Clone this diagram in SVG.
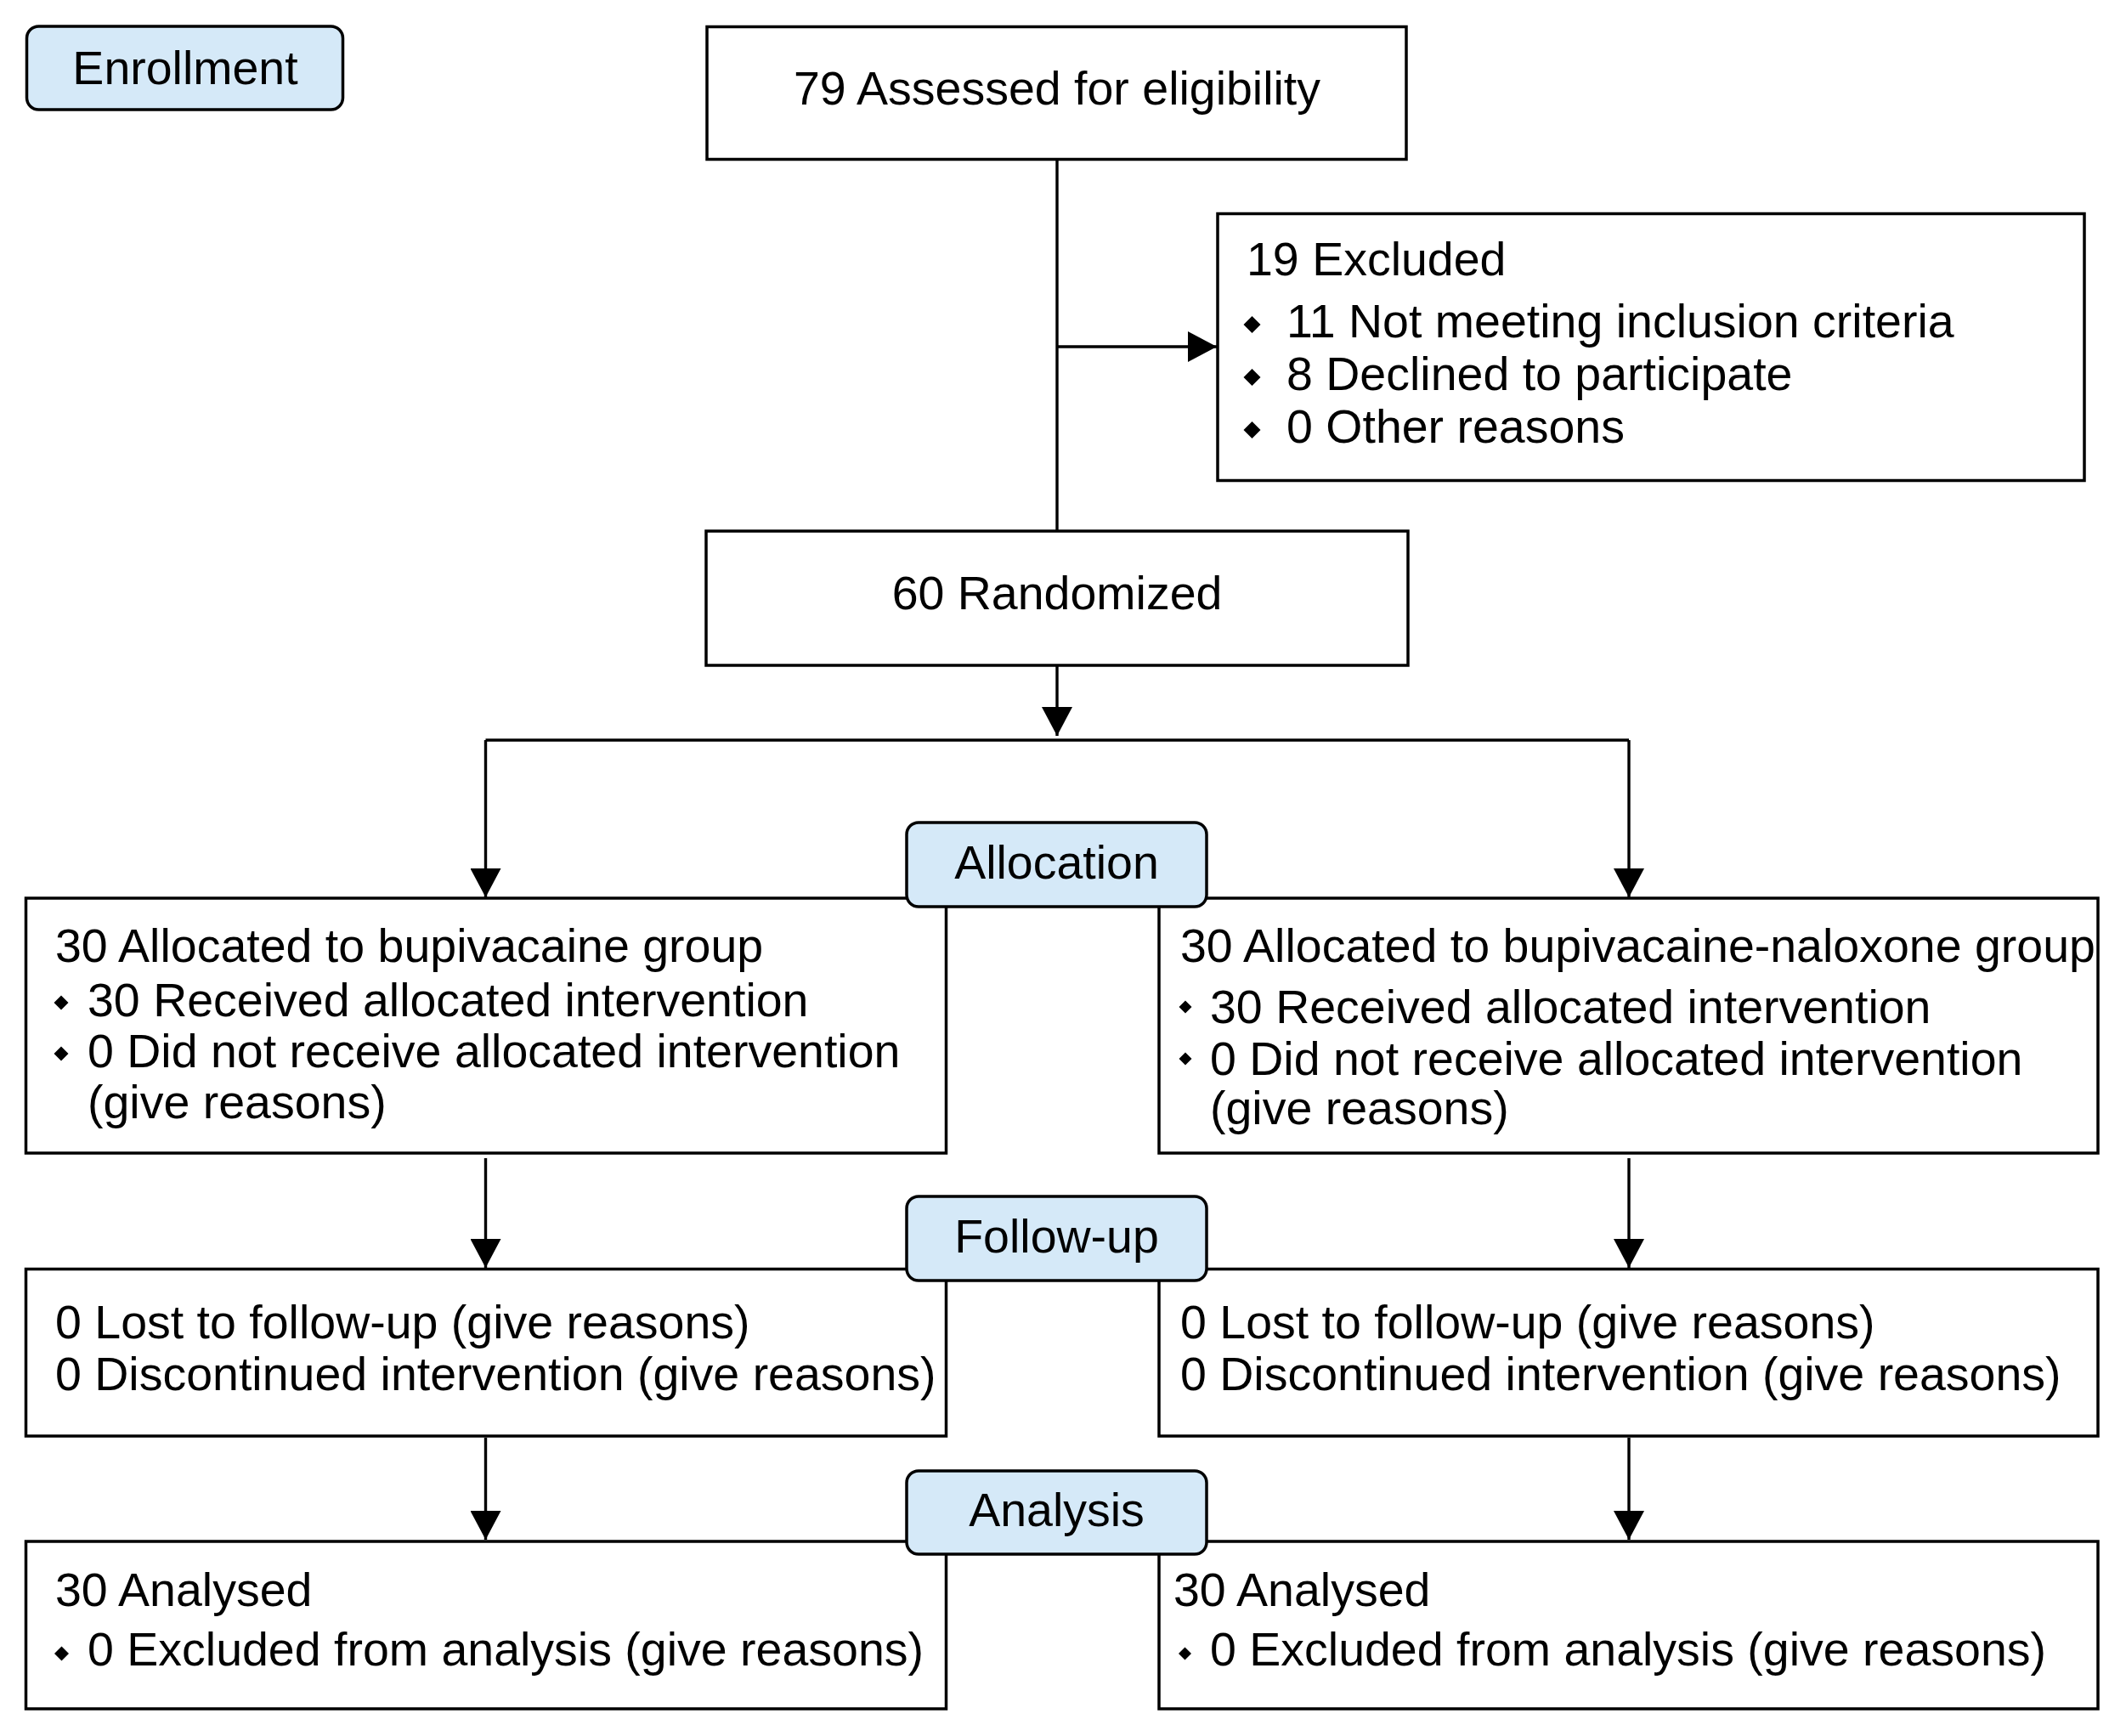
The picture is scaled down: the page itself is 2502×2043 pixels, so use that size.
<svg xmlns="http://www.w3.org/2000/svg" xmlns:xlink="http://www.w3.org/1999/xlink" width="2502" height="2043" viewBox="0 0 2502 2043">
<defs>
<style>
.box{fill:#ffffff;stroke:#000;stroke-width:3.5}
.phase{fill:#d5e9f8;stroke:#000;stroke-width:3.5}
.t{font-family:"Liberation Sans",Arial,Helvetica,sans-serif;font-size:55.5px;fill:#000}
.c{text-anchor:middle}
.ln{fill:none;stroke:#000;stroke-width:3.4}
</style>
<marker id="arr" markerUnits="userSpaceOnUse" markerWidth="34" markerHeight="36" refX="34" refY="18" orient="auto" viewBox="0 0 34 36"><path d="M0,0 L34,18 L0,36 Z" fill="#000"/></marker>
<path id="dia" d="M0,-10 L10,0 L0,10 L-10,0 Z" fill="#000"/>
</defs>
<rect width="2502" height="2043" fill="#ffffff"/>

<g id="connectors" class="ln">
<path d="M1244,188 V625"/>
<path d="M1244,408 H1432" marker-end="url(#arr)"/>
<path d="M1244,783 V866" marker-end="url(#arr)"/>
<path d="M571.5,871 H1917"/>
<path d="M571.5,871 V1056" marker-end="url(#arr)"/>
<path d="M1917,871 V1056" marker-end="url(#arr)"/>
<path d="M571.5,1363 V1492" marker-end="url(#arr)"/>
<path d="M1917,1363 V1492" marker-end="url(#arr)"/>
<path d="M571.5,1692 V1812" marker-end="url(#arr)"/>
<path d="M1917,1692 V1812" marker-end="url(#arr)"/>
</g>

<g id="enrollment">
<rect class="phase" x="31.5" y="31" width="372" height="98" rx="14"/>
<text class="t c" x="218" y="99">Enrollment</text>
</g>

<g id="assessed">
<rect class="box" x="832" y="31.5" width="823" height="156"/>
<text class="t c" x="1244" y="123">79 Assessed for eligibility</text>
</g>

<g id="excluded">
<rect class="box" x="1433" y="251.5" width="1020" height="314"/>
<text class="t" x="1467" y="324">19 Excluded</text>
<use xlink:href="#dia" href="#dia" transform="translate(1473.5,382)"/>
<text class="t" x="1514" y="397">11 Not meeting inclusion criteria</text>
<use xlink:href="#dia" href="#dia" transform="translate(1473.5,444)"/>
<text class="t" x="1514" y="459">8 Declined to participate</text>
<use xlink:href="#dia" href="#dia" transform="translate(1473.5,506)"/>
<text class="t" x="1514" y="521">0 Other reasons</text>
</g>

<g id="randomized">
<rect class="box" x="831" y="625" width="826" height="158"/>
<text class="t c" x="1244" y="717">60 Randomized</text>
</g>

<g id="alloc-left">
<rect class="box" x="30.5" y="1057" width="1083" height="300"/>
<text class="t" x="65" y="1132">30 Allocated to bupivacaine group</text>
<use xlink:href="#dia" href="#dia" transform="translate(72,1180) scale(0.85)"/>
<text class="t" x="103" y="1196">30 Received allocated intervention</text>
<use xlink:href="#dia" href="#dia" transform="translate(72,1240) scale(0.85)"/>
<text class="t" x="103" y="1256">0 Did not receive allocated intervention</text>
<text class="t" x="103" y="1316">(give reasons)</text>
</g>

<g id="alloc-right">
<rect class="box" x="1364" y="1057" width="1105" height="300"/>
<text class="t" x="1389" y="1132">30 Allocated to bupivacaine-naloxone group</text>
<use xlink:href="#dia" href="#dia" transform="translate(1395,1185) scale(0.75)"/>
<text class="t" x="1424" y="1204">30 Received allocated intervention</text>
<use xlink:href="#dia" href="#dia" transform="translate(1395,1246) scale(0.75)"/>
<text class="t" x="1424" y="1265">0 Did not receive allocated intervention</text>
<text class="t" x="1424" y="1323">(give reasons)</text>
</g>

<g id="followup-left">
<rect class="box" x="30.5" y="1493.5" width="1083" height="196.5"/>
<text class="t" x="65" y="1575">0 Lost to follow-up (give reasons)</text>
<text class="t" x="65" y="1636">0 Discontinued intervention (give reasons)</text>
</g>

<g id="followup-right">
<rect class="box" x="1364" y="1493.5" width="1105" height="196.5"/>
<text class="t" x="1389" y="1575">0 Lost to follow-up (give reasons)</text>
<text class="t" x="1389" y="1636">0 Discontinued intervention (give reasons)</text>
</g>

<g id="analysis-left">
<rect class="box" x="30.5" y="1814" width="1083" height="197"/>
<text class="t" x="65" y="1890">30 Analysed</text>
<use xlink:href="#dia" href="#dia" transform="translate(72.5,1946) scale(0.85)"/>
<text class="t" x="103" y="1960">0 Excluded from analysis (give reasons)</text>
</g>

<g id="analysis-right">
<rect class="box" x="1364" y="1814" width="1105" height="197"/>
<text class="t" x="1381" y="1890">30 Analysed</text>
<use xlink:href="#dia" href="#dia" transform="translate(1394.5,1946) scale(0.75)"/>
<text class="t" x="1424" y="1960">0 Excluded from analysis (give reasons)</text>
</g>

<g id="allocation">
<rect class="phase" x="1067" y="968" width="353" height="99" rx="14"/>
<text class="t c" x="1243.5" y="1034">Allocation</text>
</g>

<g id="followup">
<rect class="phase" x="1067" y="1408" width="353" height="99" rx="14"/>
<text class="t c" x="1243.5" y="1474">Follow-up</text>
</g>

<g id="analysis">
<rect class="phase" x="1067" y="1731" width="353" height="98" rx="14"/>
<text class="t c" x="1243.5" y="1796">Analysis</text>
</g>
</svg>
